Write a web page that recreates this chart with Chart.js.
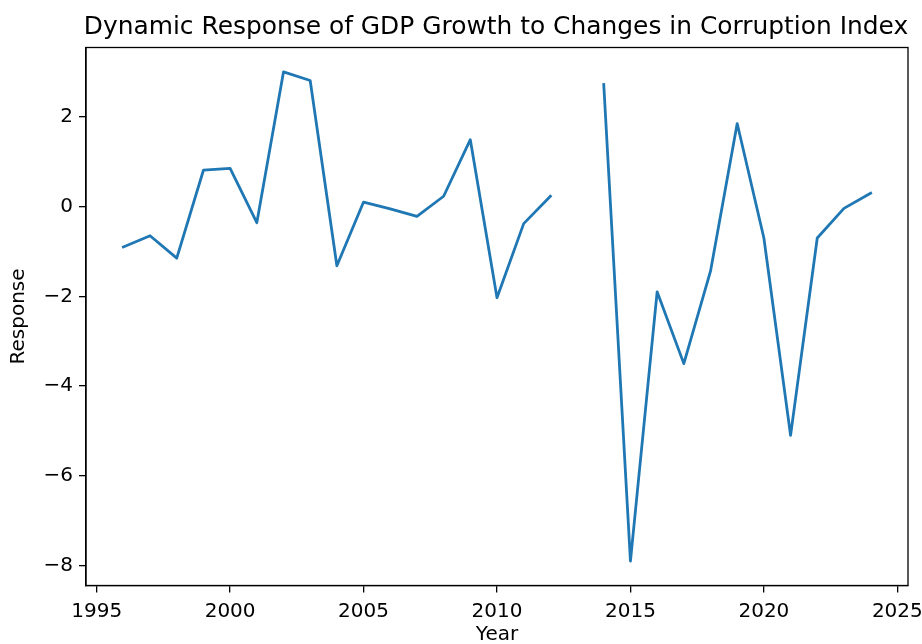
<!DOCTYPE html>
<html>
<head>
<meta charset="utf-8">
<script src="https://cdn.jsdelivr.net/npm/chart.js@4"></script>
<style>
  html, body { margin: 0; padding: 0; background: #fff; }
  canvas { display: block; }
</style>
</head>
<body>
<canvas id="chart" width="922" height="644"></canvas>
<script>
// Dados (2013 sem valor)
const years = [1996, 1997, 1998, 1999, 2000, 2001, 2002, 2003, 2004, 2005,
               2006, 2007, 2008, 2009, 2010, 2011, 2012, 2013, 2014, 2015,
               2016, 2017, 2018, 2019, 2020, 2021, 2022, 2023, 2024];
const response = [-0.9, -0.65, -1.15, 0.81, 0.85, -0.36, 3.0, 2.81, -1.32, 0.1,
                  -0.05, -0.22, 0.23, 1.49, -2.03, -0.38, 0.23, null, 2.72, -7.9,
                  -1.9, -3.5, -1.44, 1.85, -0.7, -5.1, -0.7, -0.04, 0.3];
const xTicks = [1995, 2000, 2005, 2010, 2015, 2020, 2025];
const yTicks = [-8, -6, -4, -2, 0, 2];
const chartTitle = 'Dynamic Response of GDP Growth to Changes in Corruption Index';

const FONT = 'DejaVu Sans';

// Sinal de menos tipográfico, como no matplotlib
function fmt(v) {
    return v < 0 ? '\u2212' + Math.abs(v) : String(v);
}

// Moldura completa e título centrado sobre a área do gráfico
const framePlugin = {
    id: 'frame',
    afterDatasetsDraw(chart) {
        const { ctx, chartArea: a } = chart;
        ctx.save();
        ctx.strokeStyle = '#000';
        ctx.lineWidth = 1.3;
        ctx.strokeRect(a.left, a.top, a.right - a.left, a.bottom - a.top);
        ctx.fillStyle = '#000';
        ctx.font = '24.9px "' + FONT + '"';
        ctx.textAlign = 'center';
        ctx.textBaseline = 'alphabetic';
        ctx.fillText(chartTitle, (a.left + a.right) / 2 - 1, 34);
        ctx.restore();
    }
};

function noPad(s) {
    s.paddingLeft = 0;
    s.paddingRight = 0;
    s.paddingTop = 0;
    s.paddingBottom = 0;
}

const ctx = document.getElementById('chart').getContext('2d');
new Chart(ctx, {
    type: 'line',
    data: {
        datasets: [{
            data: years.map((y, i) => ({ x: y, y: response[i] })),
            borderColor: '#1f77b4',
            borderWidth: 2.8,
            borderJoinStyle: 'round',
            borderCapStyle: 'square',
            pointRadius: 0,
            tension: 0,
            spanGaps: false,
            fill: false
        }]
    },
    options: {
        responsive: false,
        animation: false,
        layout: { padding: { left: 0, right: 14, top: 47.5, bottom: 0 } },
        plugins: {
            legend: { display: false },
            tooltip: { enabled: false },
            title: { display: false }
        },
        scales: {
            x: {
                type: 'linear',
                min: 1994.6,
                max: 2025.4,
                afterBuildTicks: (s) => { s.ticks = xTicks.map(v => ({ value: v })); },
                afterFit: (s) => { s.height = 58.5; noPad(s); },
                ticks: {
                    color: '#000',
                    font: { family: FONT, size: 20 },
                    padding: 7,
                    maxRotation: 0,
                    callback: (v) => String(v)
                },
                grid: { drawOnChartArea: false, drawTicks: true, tickLength: 7, color: '#000', lineWidth: 1.3 },
                border: { display: true, color: '#000', width: 1.3 },
                title: {
                    display: true,
                    text: 'Year',
                    color: '#000',
                    font: { family: FONT, size: 20, lineHeight: 1 },
                    padding: { top: 0, bottom: -1 }
                }
            },
            y: {
                type: 'linear',
                min: -8.445,
                max: 3.545,
                afterBuildTicks: (s) => { s.ticks = yTicks.map(v => ({ value: v })); },
                afterFit: (s) => { s.width = 86; noPad(s); },
                ticks: {
                    color: '#000',
                    font: { family: FONT, size: 20 },
                    padding: 6,
                    callback: (v) => fmt(v)
                },
                grid: { drawOnChartArea: false, drawTicks: true, tickLength: 7, color: '#000', lineWidth: 1.3 },
                border: { display: true, color: '#000', width: 1.3 },
                title: {
                    display: true,
                    text: 'Response',
                    color: '#000',
                    font: { family: FONT, size: 20, lineHeight: 1.2 },
                    padding: { top: 6.5, bottom: 0 }
                }
            }
        }
    },
    plugins: [framePlugin]
});
</script>
</body>
</html>
